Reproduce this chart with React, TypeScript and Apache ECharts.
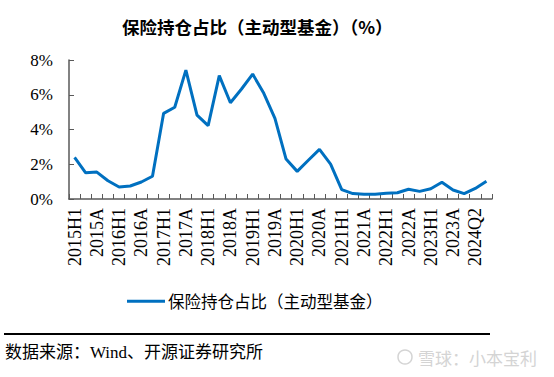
import React, { useEffect, useRef } from "react";
import * as echarts from "echarts";

const categories: string[] = [
  "2015H1", "2015Q3", "2015A",
  "2016Q1", "2016H1", "2016Q3", "2016A",
  "2017Q1", "2017H1", "2017Q3", "2017A",
  "2018Q1", "2018H1", "2018Q3", "2018A",
  "2019Q1", "2019H1", "2019Q3", "2019A",
  "2020Q1", "2020H1", "2020Q3", "2020A",
  "2021Q1", "2021H1", "2021Q3", "2021A",
  "2022Q1", "2022H1", "2022Q3", "2022A",
  "2023Q1", "2023H1", "2023Q3", "2023A",
  "2024Q1", "2024Q2", "2024Q3",
];

const insuranceShare: number[] = [
  2.40, 1.51, 1.55,
  1.05, 0.69, 0.75, 0.98,
  1.31, 4.93, 5.28, 7.42,
  4.83, 4.22, 7.10, 5.54,
  6.33, 7.19, 6.08, 4.64,
  2.30, 1.59, 2.23, 2.86,
  2.01, 0.54, 0.31, 0.27,
  0.27, 0.33, 0.36, 0.56,
  0.44, 0.59, 0.96, 0.52,
  0.31, 0.61, 1.02,
];

const yTicks: number[] = [0, 2, 4, 6, 8];

const titleText = "保险持仓占比（主动型基金）（%）";
const seriesName = "保险持仓占比（主动型基金）";
const sourceText = "数据来源：Wind、开源证券研究所";
const watermarkText = "雪球：小本宝利";

const FONT = "'Liberation Serif', 'Times New Roman', 'Noto Sans CJK SC', serif";
const CJK = "'Noto Sans CJK SC', sans-serif";

export default function App() {
  const ref = useRef<HTMLDivElement>(null);

  useEffect(() => {
    if (!ref.current) return;
    const chart = echarts.init(ref.current, undefined, { renderer: "svg" });
    chart.setOption({
      animation: false,
      backgroundColor: "#ffffff",
      title: {
        text: titleText,
        left: 117,
        top: 13,
        textStyle: {
          fontFamily: CJK,
          fontSize: 17.5,
          fontWeight: "bold",
          color: "#000000",
        },
      },
      legend: {
        data: [seriesName],
        left: 122,
        top: 288,
        icon: "rect",
        itemWidth: 38,
        itemHeight: 3,
        itemGap: 10,
        textStyle: {
          fontFamily: CJK,
          fontSize: 16.5,
          color: "#000000",
          padding: [0, 0, 0, -2],
        },
      },
      grid: {
        left: 69,
        right: 62,
        top: 60,
        bottom: 178,
        containLabel: false,
      },
      xAxis: {
        type: "category",
        data: categories,
        boundaryGap: true,
        axisLine: { show: true, lineStyle: { color: "#595959", width: 1.5 } },
        axisTick: {
          show: true,
          inside: true,
          interval: 0,
          length: 5,
          lineStyle: { color: "#595959", width: 1 },
        },
        axisLabel: {
          interval: 1,
          rotate: 90,
          margin: 9,
          fontFamily: FONT,
          fontSize: 18,
          color: "#000000",
        },
        splitLine: { show: false },
      },
      yAxis: {
        type: "value",
        min: yTicks[0],
        max: yTicks[yTicks.length - 1],
        interval: 2,
        axisLine: { show: true, lineStyle: { color: "#595959", width: 1.5 } },
        axisTick: {
          show: true,
          inside: true,
          length: 5,
          lineStyle: { color: "#595959", width: 1 },
        },
        axisLabel: {
          formatter: "{value}%",
          margin: 16,
          fontFamily: FONT,
          fontSize: 17,
          color: "#000000",
        },
        splitLine: { show: false },
      },
      series: [
        {
          name: seriesName,
          type: "line",
          data: insuranceShare,
          showSymbol: false,
          symbol: "none",
          lineStyle: { color: "#0070C0", width: 3 },
          itemStyle: { color: "#0070C0" },
        },
      ],
      graphic: [
        {
          type: "line",
          shape: { x1: 4, y1: 334, x2: 490, y2: 334 },
          style: { stroke: "#000000", lineWidth: 2 },
        },
        {
          type: "text",
          x: 5,
          y: 352,
          style: {
            text: sourceText,
            fontFamily: FONT,
            fontSize: 17,
            fill: "#000000",
            verticalAlign: "middle",
            align: "left",
          },
        },
        {
          type: "circle",
          shape: { cx: 405, cy: 357, r: 7 },
          style: { fill: "none", stroke: "#d4d4d4", lineWidth: 1.5 },
        },
        {
          type: "text",
          x: 418,
          y: 357,
          style: {
            text: watermarkText,
            fontFamily: CJK,
            fontSize: 17,
            fill: "#d4d4d4",
            verticalAlign: "middle",
            align: "left",
          },
        },
      ],
    });
    return () => {
      chart.dispose();
    };
  }, []);

  return (
    <div
      ref={ref}
      style={{ position: "fixed", left: 0, top: 0, width: 554, height: 377 }}
    />
  );
}
